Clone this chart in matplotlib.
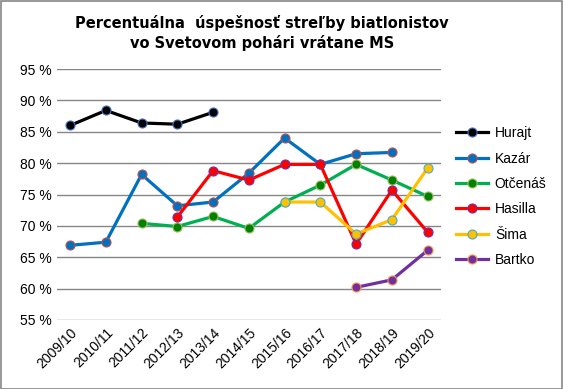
import matplotlib.pyplot as plt
from matplotlib.patches import Rectangle
import numpy as np

seasons = ['2009/10', '2010/11', '2011/12', '2012/13', '2013/14', '2014/15',
           '2015/16', '2016/17', '2017/18', '2018/19', '2019/20']
nan = np.nan
hurajt = [86.0, 88.4, 86.4, 86.2, 88.1, nan, nan, nan, nan, nan, nan]
kazar = [66.9, 67.4, 78.2, 73.2, 73.8, 78.4, 84.0, 79.8, 81.5, 81.7, nan]
otcenas = [nan, nan, 70.4, 69.9, 71.5, 69.6, 73.8, 76.5, 79.8, 77.3, 74.7]
hasilla = [nan, nan, nan, 71.4, 78.8, 77.3, 79.8, 79.8, 67.1, 75.7, 69.0]
sima = [nan, nan, nan, nan, nan, nan, 73.8, 73.8, 68.7, 71.0, 79.2]
bartko = [nan, nan, nan, nan, nan, nan, nan, nan, 60.2, 61.4, 66.1]

series = [
    ('Hurajt', hurajt, 'black', 'black', '#4472C4'),
    ('Kazár', kazar, '#0070C0', '#0070C0', '#C0504D'),
    ('Otčenáš', otcenas, '#00B050', '#008000', '#9BBB59'),
    ('Hasilla', hasilla, '#FF0000', '#FF0000', '#7030A0'),
    ('Šima', sima, '#FFC000', '#FFC000', '#4BACC6'),
    ('Bartko', bartko, '#7030A0', '#7030A0', '#F79646'),
]

plt.rcParams['font.family'] = ['Liberation Sans', 'DejaVu Sans']

fig = plt.figure(figsize=(5.63, 3.89), dpi=100)
ax = fig.add_axes([0.101, 0.1774, 0.682, 0.6452])

x = np.arange(len(seasons))
for name, vals, lc, fc, ec in series:
    ax.plot(x, vals, color=lc, lw=2.3, marker='o', ms=6.5,
            markerfacecolor=fc, markeredgecolor=ec, markeredgewidth=0.8,
            label=name, zorder=3)

ax.set_ylim(55, 95)
ax.set_xlim(-0.37, 10.37)
ax.set_yticks(range(55, 96, 5))
ax.set_yticklabels([f'{v} %' for v in range(55, 96, 5)], fontsize=10)
ax.set_xticks(x)
ax.set_xticklabels(seasons, rotation=45, ha='right', rotation_mode='anchor', fontsize=10)
ax.tick_params(length=0, pad=4)
ax.grid(axis='y', color='#868686', lw=1)
ax.set_axisbelow(True)
for s in ax.spines.values():
    s.set_visible(False)

ax.legend(loc='upper left', bbox_to_anchor=(0.8, 0.69), bbox_transform=fig.transFigure,
          frameon=False, fontsize=10, handlelength=2.3, labelspacing=0.82,
          handletextpad=0.5, borderaxespad=0)

fig.text(0.465, 0.962, 'Percentuálna  úspešnosť streľby biatlonistov\nvo Svetovom pohári vrátane MS',
         ha='center', va='top', fontsize=10.5, fontweight='bold', family='DejaVu Sans',
         linespacing=1.35)

fig.patches.append(Rectangle((0.001, 0.001), 0.997, 0.997, transform=fig.transFigure,
                             fill=False, edgecolor='#868686', lw=1.2))

fig.savefig('out.png', dpi=100)
